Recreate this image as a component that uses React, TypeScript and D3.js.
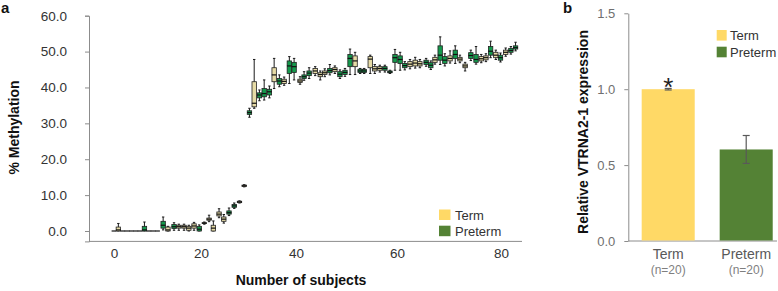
import React, { useEffect, useRef } from 'react';
import * as d3 from 'd3';

const FONT = '"Liberation Sans", Arial, Helvetica, sans-serif';

// ---------- Panel a: % methylation per subject (box plots) ----------
const xTickValues = [0, 20, 40, 60, 80];
const yTickValuesA = [0, 10, 20, 30, 40, 50, 60];

const subjects = [
  0, 1, 2, 3, 4, 5, 6, 7, 8, 9,
  10, 11.3, 12.4, 13.8, 14.9, 16.1, 17.2, 18.4, 19.6, 20.7,
  21.7, 22.6, 23.8, 24.8, 25.9, 27.0, 28.1, 29.1, 30.2, 31.2,
  32.3, 33.3, 34.4, 35.4, 36.5, 37.5, 38.6, 39.6, 40.8, 41.6,
  42.6, 43.8, 44.8, 45.7, 46.7, 47.7, 48.7, 49.7, 50.7, 51.7,
  52.7, 53.5, 54.7, 55.6, 56.6, 57.6, 58.6, 59.6, 60.6, 61.5,
  62.5, 63.5, 64.4, 65.6, 66.5, 67.3, 68.3, 69.2, 70.2, 71.2,
  72.1, 73.1, 74.2, 75.2, 76.2, 77.1, 78.0, 79.0, 79.9, 80.9,
  81.9, 82.8,
];

// T = term, P = preterm
const groups = [
  'T', 'T', 'T', 'T', 'T', 'T', 'T', 'P', 'T', 'T',
  'T', 'P', 'T', 'P', 'T', 'T', 'T', 'T', 'P', 'T',
  'T', 'T', 'T', 'T', 'P', 'P', 'T', 'T', 'P', 'T',
  'P', 'P', 'P', 'T', 'P', 'T', 'P', 'P', 'T', 'P',
  'P', 'T', 'T', 'T', 'P', 'T', 'P', 'P', 'P', 'T',
  'P', 'P', 'T', 'T', 'T', 'P', 'P', 'P', 'P', 'P',
  'T', 'T', 'T', 'P', 'P', 'T', 'P', 'P', 'T', 'P',
  'T', 'T', 'P', 'P', 'T', 'T', 'P', 'T', 'P', 'T',
  'P', 'P',
];

const whiskerLow = [
  0, 0, 0, 0, 0, 0, 0, 0, 0, 0,
  0, 0.3, 0, 0.2, 0.2, 0.2, 0, 0.2, 0, 1.9,
  2.6, 0, 3.7, 2.2, 4.3, 6.3, 7.8, 12.3, 31.7, 34.2,
  36.3, 36.5, 37.1, 39.7, 40.2, 40.6, 41.1, 42.1, 40.9, 42.0,
  42.5, 43.3, 42.1, 43.0, 43.5, 43.9, 42.5, 43.1, 43.6, 43.6,
  43.9, 43.9, 43.9, 43.9, 44.3, 44.3, 43.9, 44.8, 44.8, 44.9,
  45.2, 45.4, 45.5, 45.9, 45.0, 46.5, 46.4, 46.0, 46.8, 46.7,
  46.9, 44.6, 47.5, 46.5, 46.9, 47.2, 48.3, 47.8, 47.1, 48.7,
  49.3, 50.2,
];

const q1 = [
  0, 0, 0, 0, 0, 0, 0, 0, 0, 0,
  0, 0.8, 0, 0.7, 0.8, 0.8, 0.2, 0.8, 0, 2.1,
  3.0, 0, 4.2, 2.7, 4.7, 6.6, 7.9, 12.4, 32.5, 34.6,
  37.1, 37.4, 37.9, 41.6, 40.9, 41.1, 43.9, 44.2, 41.4, 42.5,
  43.3, 43.9, 43.0, 43.6, 44.1, 44.4, 43.0, 43.6, 45.8, 45.8,
  44.2, 44.2, 45.5, 44.6, 44.8, 44.8, 44.1, 47.0, 46.7, 45.5,
  45.8, 46.0, 46.0, 46.4, 45.5, 47.0, 47.6, 46.7, 47.4, 48.1,
  47.4, 45.5, 48.1, 47.0, 47.4, 47.7, 49.0, 48.3, 47.6, 49.2,
  49.8, 50.7,
];

const median = [
  0, 0.3, 0, 0, 0, 0, 0, 0.3, 0, 0,
  0, 1.6, 0.3, 1.2, 1.2, 1.2, 0.8, 1.4, 0.5, 2.2,
  3.3, 0.8, 4.7, 3.3, 5.1, 7.0, 8.1, 12.6, 33.0, 35.6,
  37.9, 38.3, 38.8, 43.5, 41.8, 41.7, 46.0, 45.8, 41.8, 43.0,
  44.0, 44.6, 43.6, 44.1, 44.7, 45.0, 43.7, 44.2, 48.1, 47.4,
  44.6, 44.6, 47.9, 45.2, 45.3, 45.3, 44.3, 48.3, 47.8, 46.1,
  46.5, 46.8, 46.6, 47.0, 46.2, 47.7, 49.0, 47.6, 48.1, 49.2,
  47.9, 46.0, 48.9, 47.8, 48.0, 48.3, 50.1, 49.0, 48.3, 49.8,
  50.3, 51.1,
];

const q3 = [
  0, 1.1, 0, 0, 0, 0, 0, 1.3, 0, 0,
  0, 2.7, 1.1, 1.8, 1.6, 1.6, 1.3, 2.0, 1.3, 2.3,
  3.6, 1.6, 5.3, 3.9, 5.6, 7.4, 8.3, 12.8, 33.5, 41.6,
  38.5, 39.7, 39.5, 45.5, 42.5, 42.3, 47.4, 47.0, 42.3, 43.5,
  44.6, 45.3, 44.1, 44.6, 45.3, 45.5, 44.4, 44.8, 49.2, 48.8,
  45.1, 45.0, 48.6, 45.8, 45.8, 45.8, 44.6, 49.2, 48.8, 46.7,
  47.2, 47.6, 47.2, 47.6, 46.9, 48.4, 51.6, 48.6, 48.8, 50.4,
  48.4, 46.5, 49.7, 49.2, 48.6, 48.8, 51.4, 49.8, 49.0, 50.4,
  50.9, 51.6,
];

const whiskerHigh = [
  0, 2.1, 0, 0, 0, 0, 0, 2.5, 0, 0,
  0, 3.9, 1.3, 2.3, 1.9, 1.9, 1.6, 2.4, 1.7, 2.5,
  4.4, 2.8, 6.2, 4.6, 6.4, 7.8, 8.4, 12.9, 34.2, 47.8,
  39.3, 42.1, 40.4, 48.1, 43.5, 42.9, 48.6, 48.1, 43.0, 44.4,
  45.5, 45.8, 44.6, 45.2, 46.4, 46.0, 44.9, 45.3, 50.7, 49.8,
  45.3, 45.3, 49.0, 46.4, 46.2, 46.2, 44.8, 50.6, 49.8, 47.2,
  47.8, 48.4, 47.8, 48.1, 47.4, 49.0, 54.1, 49.4, 50.2, 51.6,
  49.0, 47.0, 50.4, 51.4, 49.2, 49.4, 52.9, 50.4, 49.6, 51.0,
  51.4, 52.6,
];

// ---------- Panel b: relative VTRNA2-1 expression ----------
const expressionGroups = ['Term', 'Preterm'];
const expressionN = ['(n=20)', '(n=20)'];
const expressionMean = [1.0, 0.603];
const expressionErr = [0.005, 0.092];
const yTickValuesB = [0, 0.5, 1.0, 1.5];

const BOX_COLORS: Record<string, string> = { T: '#e6dba6', P: '#14994c' };
const BAR_COLORS = ['#ffd966', '#548235'];

export default function App() {
  const ref = useRef<SVGSVGElement>(null);

  useEffect(() => {
    const svg = d3.select(ref.current);
    svg.selectAll('*').remove();
    svg.attr('font-family', FONT);

    // ===== Panel a =====
    const xA = d3.scaleLinear().domain(xTickValues).range([114, 201, 296, 397, 501]);
    const yA = d3.scaleLinear().domain([-2.9, 60]).range([241.4, 15.7]);

    const gA = svg.append('g');

    // y axis
    const yAxisA = gA.append('g').attr('transform', 'translate(89,0)')
      .call(d3.axisLeft(yA).tickValues(yTickValuesA).tickFormat(d3.format('.1f'))
        .tickSize(4).tickSizeOuter(4).tickPadding(18));
    yAxisA.selectAll('path,line').attr('stroke', '#8c8c8c');
    yAxisA.selectAll('text').attr('fill', '#333').attr('font-size', 13.5).attr('font-family', FONT);

    // x axis
    gA.append('line').attr('x1', 89).attr('x2', 522).attr('y1', 241.4).attr('y2', 241.4)
      .attr('stroke', '#8c8c8c');
    const xAxisA = gA.append('g').attr('transform', 'translate(0,241.4)')
      .call(d3.axisBottom(xA).tickValues(xTickValues).tickFormat(d3.format('d')).tickSize(0).tickPadding(7.5));
    xAxisA.select('.domain').remove();
    xAxisA.selectAll('text').attr('fill', '#333').attr('font-size', 13.5).attr('font-family', FONT);

    // boxes
    const bw = 4.4;
    const boxes = gA.append('g');
    subjects.forEach((s, i) => {
      const cx = xA(s);
      const g = boxes.append('g');
      if (whiskerHigh[i] > whiskerLow[i]) {
        g.append('line').attr('x1', cx).attr('x2', cx)
          .attr('y1', yA(whiskerLow[i])).attr('y2', yA(whiskerHigh[i]))
          .attr('stroke', '#1a1a1a').attr('stroke-width', 1);
        [whiskerLow[i], whiskerHigh[i]].forEach((v) => {
          g.append('line').attr('x1', cx - 1.2).attr('x2', cx + 1.2)
            .attr('y1', yA(v)).attr('y2', yA(v)).attr('stroke', '#1a1a1a').attr('stroke-width', 1);
        });
      }
      if (q3[i] > q1[i]) {
        g.append('rect').attr('x', cx - bw / 2).attr('width', bw)
          .attr('y', yA(q3[i])).attr('height', yA(q1[i]) - yA(q3[i]))
          .attr('fill', BOX_COLORS[groups[i]]).attr('stroke', '#222').attr('stroke-width', 0.8);
      }
      g.append('line').attr('x1', cx - bw / 2 - 0.2).attr('x2', cx + bw / 2 + 0.2)
        .attr('y1', yA(median[i])).attr('y2', yA(median[i]))
        .attr('stroke', '#111').attr('stroke-width', 1.2);
    });

    // axis titles
    gA.append('text').attr('x', 301).attr('y', 285).attr('text-anchor', 'middle')
      .attr('font-size', 14).attr('font-weight', 'bold').attr('fill', '#111').text('Number of subjects');
    gA.append('text').attr('transform', 'translate(19,127.5) rotate(-90)').attr('text-anchor', 'middle')
      .attr('font-size', 14).attr('font-weight', 'bold').attr('fill', '#111').text('% Methylation');
    gA.append('text').attr('x', 1).attr('y', 13).attr('font-size', 15).attr('font-weight', 'bold')
      .attr('fill', '#111').text('a');

    // legend a
    const legA = gA.append('g');
    expressionGroups.forEach((name, i) => {
      legA.append('rect').attr('x', 439).attr('y', 209.5 + i * 16.2).attr('width', 11.5).attr('height', 10.5)
        .attr('fill', BAR_COLORS[i]);
      legA.append('text').attr('x', 455).attr('y', 219.5 + i * 16.2).attr('font-size', 13)
        .attr('fill', '#333').text(name);
    });

    // ===== Panel b =====
    const xB = d3.scaleBand().domain(expressionGroups).range([629.2, 785.2]).paddingInner(0.32).paddingOuter(0.16);
    const yB = d3.scaleLinear().domain([0, 1.5]).range([241, 13.3]);
    const gB = svg.append('g');

    const yAxisB = gB.append('g').attr('transform', 'translate(628.3,0)')
      .call(d3.axisLeft(yB).tickValues(yTickValuesB).tickFormat(d3.format('.1f'))
        .tickSize(4).tickSizeOuter(0).tickPadding(9));
    yAxisB.selectAll('path,line').attr('stroke', '#8c8c8c');
    yAxisB.selectAll('text').attr('fill', '#6f6f6f').attr('font-size', 13).attr('font-family', FONT);

    gB.append('line').attr('x1', 628.3).attr('x2', 777).attr('y1', 241).attr('y2', 241).attr('stroke', '#8c8c8c');

    expressionGroups.forEach((name, i) => {
      const x0 = xB(name) as number;
      const cx = x0 + xB.bandwidth() / 2;
      gB.append('rect').attr('x', x0).attr('width', xB.bandwidth())
        .attr('y', yB(expressionMean[i])).attr('height', yB(0) - yB(expressionMean[i]) - 0.5)
        .attr('fill', BAR_COLORS[i]);
      const lo = expressionMean[i] - expressionErr[i];
      const hi = expressionMean[i] + expressionErr[i];
      gB.append('line').attr('x1', cx).attr('x2', cx).attr('y1', yB(lo)).attr('y2', yB(hi))
        .attr('stroke', '#595959').attr('stroke-width', 1.2);
      [lo, hi].forEach((v) => {
        gB.append('line').attr('x1', cx - 3.5).attr('x2', cx + 3.5).attr('y1', yB(v)).attr('y2', yB(v))
          .attr('stroke', '#595959').attr('stroke-width', 1.2);
      });
      gB.append('text').attr('x', cx).attr('y', 258.5).attr('text-anchor', 'middle')
        .attr('font-size', 14).attr('fill', '#595959').text(name);
      gB.append('text').attr('x', cx).attr('y', 273.5).attr('text-anchor', 'middle')
        .attr('font-size', 12).attr('fill', '#7f7f7f').text(expressionN[i]);
    });

    // significance asterisk above Term bar
    const termCx = (xB('Term') as number) + xB.bandwidth() / 2;
    gB.append('text').attr('x', termCx).attr('y', 96).attr('text-anchor', 'middle')
      .attr('font-size', 26).attr('fill', '#222').text('*');

    gB.append('text').attr('transform', 'translate(588,132) rotate(-90)').attr('text-anchor', 'middle')
      .attr('font-size', 14).attr('font-weight', 'bold').attr('fill', '#111').text('Relative VTRNA2-1 expression');
    gB.append('text').attr('x', 563).attr('y', 13).attr('font-size', 15).attr('font-weight', 'bold')
      .attr('fill', '#111').text('b');

    // legend b
    expressionGroups.forEach((name, i) => {
      gB.append('rect').attr('x', 716.7).attr('y', 30 + i * 16.7).attr('width', 10).attr('height', 10.6)
        .attr('fill', BAR_COLORS[i]);
      gB.append('text').attr('x', 730).attr('y', 39.8 + i * 16.7).attr('font-size', 13)
        .attr('fill', '#333').text(name);
    });
  }, []);

  return (
    <svg
      ref={ref}
      width={778}
      height={291}
      style={{ position: 'absolute', left: 0, top: 0, background: '#fff' }}
    />
  );
}
